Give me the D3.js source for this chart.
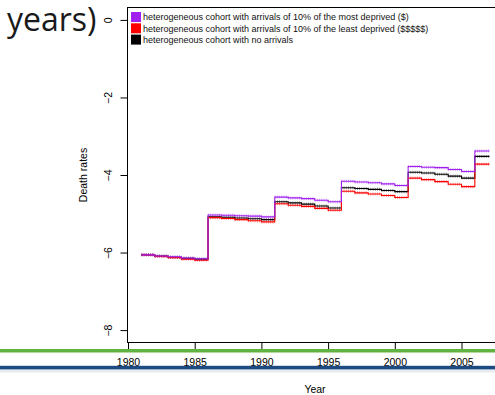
<!DOCTYPE html>
<html>
<head>
<meta charset="utf-8">
<script src="https://cdn.jsdelivr.net/npm/d3@7"></script>
<style>
  html, body { margin: 0; padding: 0; background: #fff; overflow: hidden; }
  svg { display: block; font-family: "Liberation Sans", Arial, sans-serif; }
</style>
</head>
<body>
<svg id="chart" width="495" height="395"></svg>
<script>
// step start years (one value per calendar year), last step runs to endYear
const years = d3.range(1981, 2007);
const endYear = 2007.1;

const mostDeprived = [
  -6.06, -6.09, -6.11, -6.14, -6.16,
  -5.03, -5.04, -5.05, -5.06, -5.08,
  -4.57, -4.59, -4.61, -4.65, -4.69,
  -4.16, -4.18, -4.20, -4.23, -4.27,
  -3.78, -3.80, -3.81, -3.86, -3.91,
  -3.38
];
const leastDeprived = [
  -6.06, -6.10, -6.13, -6.17, -6.20,
  -5.10, -5.12, -5.15, -5.18, -5.21,
  -4.74, -4.78, -4.81, -4.86, -4.91,
  -4.42, -4.46, -4.49, -4.53, -4.58,
  -4.08, -4.12, -4.17, -4.24, -4.30,
  -3.72
];
const noArrivals = [
  -6.06, -6.09, -6.12, -6.15, -6.17,
  -5.08, -5.09, -5.11, -5.13, -5.15,
  -4.69, -4.72, -4.75, -4.80, -4.85,
  -4.33, -4.35, -4.37, -4.40, -4.43,
  -3.93, -3.95, -3.98, -4.03, -4.08,
  -3.52
];

const legendLabels = [
  'heterogeneous cohort with arrivals of 10% of the most deprived ($)',
  'heterogeneous cohort with arrivals of 10% of the least deprived ($$$$$)',
  'heterogeneous cohort with no arrivals'
];
const legendColors = ['#a020f0', '#ff0000', '#000000'];

const xTicks = [1980, 1985, 1990, 1995, 2000, 2005];
const yTicks = [-8, -6, -4, -2, 0];

const svg = d3.select('#chart');

const box = { left: 127.5, top: 7.5, right: 502, bottom: 342.5 };

const x = d3.scaleLinear().domain([1980, 2005]).range([128, 461.5]);
const y = d3.scaleLinear().domain([-8.32, 0.32]).range([box.bottom, box.top]);

// slide title remnant
svg.append('text')
  .attr('x', 7).attr('y', 31)
  .attr('font-family', '"Open Sans", sans-serif')
  .attr('font-size', 32)
  .attr('fill', '#1a1a1a')
  .text('years)');

// series (drawn black, red, purple so purple ends on top)
const series = [
  { values: noArrivals, color: legendColors[2] },
  { values: leastDeprived, color: legendColors[1] },
  { values: mostDeprived, color: legendColors[0] }
];

const line = d3.line()
  .x(d => x(d[0]))
  .y(d => y(d[1]))
  .curve(d3.curveStepAfter);

series.forEach(s => {
  const pts = years.map((yr, i) => [yr, s.values[i]]);
  pts.push([endYear, s.values[s.values.length - 1]]);

  // "+" point marks along each yearly step
  const g = svg.append('g');
  years.forEach((yr, i) => {
    const x1 = i + 1 < years.length ? years[i + 1] : endYear;
    g.append('line')
      .attr('x1', x(yr)).attr('x2', x(x1))
      .attr('y1', y(s.values[i])).attr('y2', y(s.values[i]))
      .attr('stroke', s.color)
      .attr('stroke-width', 3)
      .attr('stroke-opacity', 0.45)
      .attr('stroke-dasharray', '0.9,1.3');
  });

  svg.append('path')
    .datum(pts)
    .attr('fill', 'none')
    .attr('stroke', s.color)
    .attr('stroke-width', 1.1)
    .attr('d', line);
});

// plot box
svg.append('rect')
  .attr('x', box.left).attr('y', box.top)
  .attr('width', box.right - box.left).attr('height', box.bottom - box.top)
  .attr('fill', 'none').attr('stroke', '#000').attr('stroke-width', 1);

// y axis
const yAxis = svg.append('g')
  .attr('transform', `translate(${box.left},0)`)
  .call(d3.axisLeft(y).tickValues(yTicks).tickSize(7).tickFormat(d3.format('d')));
yAxis.select('.domain').remove();
yAxis.selectAll('line').attr('stroke', '#000');
yAxis.selectAll('text')
  .attr('transform', 'rotate(-90)')
  .attr('x', 0).attr('y', -15.5).attr('dy', 0)
  .attr('text-anchor', 'middle')
  .attr('font-size', 10.5)
  .attr('font-family', '"Liberation Sans", Arial, sans-serif')
  .attr('fill', '#000');

// x axis
const xAxis = svg.append('g')
  .attr('transform', `translate(0,${box.bottom})`)
  .call(d3.axisBottom(x).tickValues(xTicks).tickSize(7).tickFormat(d3.format('d')));
xAxis.select('.domain').remove();
xAxis.selectAll('line').attr('stroke', '#000');
xAxis.selectAll('text')
  .attr('y', 23.5).attr('dy', 0)
  .attr('font-size', 10.5)
  .attr('font-family', '"Liberation Sans", Arial, sans-serif')
  .attr('fill', '#000');

// axis titles
svg.append('text')
  .attr('transform', `translate(87,${(box.top + box.bottom) / 2}) rotate(-90)`)
  .attr('text-anchor', 'middle')
  .attr('font-size', 10.5)
  .text('Death rates');

svg.append('text')
  .attr('x', 315).attr('y', 393)
  .attr('text-anchor', 'middle')
  .attr('font-size', 10.5)
  .text('Year');

// legend
const legend = svg.append('g');
legendLabels.forEach((lab, i) => {
  const cy = 17 + i * 11.3;
  legend.append('rect')
    .attr('x', 131).attr('y', cy - 5)
    .attr('width', 10).attr('height', 10)
    .attr('fill', legendColors[i]);
  legend.append('text')
    .attr('x', 143).attr('y', cy + 3.2)
    .attr('font-size', 9)
    .attr('fill', '#111')
    .text(lab);
});

// slide decoration bars
svg.append('rect')
  .attr('x', 0).attr('y', 349).attr('width', 495).attr('height', 3.5)
  .attr('fill', '#62b240');
svg.append('rect')
  .attr('x', 0).attr('y', 369.5).attr('width', 495).attr('height', 3)
  .attr('fill', '#e8ecf0');
svg.append('rect')
  .attr('x', 0).attr('y', 365.8).attr('width', 495).attr('height', 3.6)
  .attr('fill', '#1c4a82');
</script>
</body>
</html>
